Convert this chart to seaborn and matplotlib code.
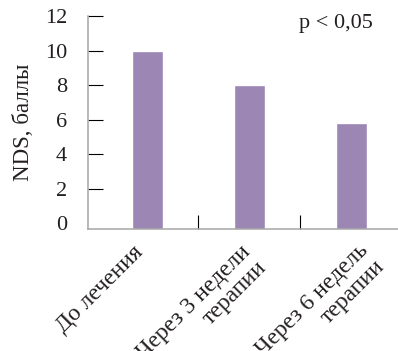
import matplotlib
matplotlib.use("Agg")
import matplotlib.pyplot as plt
import matplotlib.transforms as mtransforms
import seaborn as sns
import pandas as pd

categories = ["До лечения", "Через 3 недели\nтерапии", "Через 6 недель\nтерапии"]
nds_values = [10.0, 8.0, 5.8]
y_ticks = [0, 2, 4, 6, 8, 10, 12]
p_text = "p < 0,05"
y_label = "NDS, баллы"

df = pd.DataFrame({"period": categories, "nds": nds_values})

sns.set_style("white")
plt.rcParams["font.family"] = ["Liberation Serif", "DejaVu Serif"]
txt_color = "#231f20"

fig = plt.figure(figsize=(3.98, 3.51), dpi=100)
ax = fig.add_axes([0.221, 0.3476, 0.779, 0.6068])

sns.barplot(data=df, x="period", y="nds", color="#9b86b4", saturation=1,
            width=0.3, ax=ax)

y_floor = -0.32
ax.set_xlim(-0.583, 2.456)
ax.set_ylim(y_floor, 12)
# in the original the bars run down to the axis line, slightly below zero
for bar in ax.patches:
    h = bar.get_height()
    bar.set_y(y_floor)
    bar.set_height(h - y_floor)

ax.set_yticks(y_ticks)
ax.set_yticklabels([str(t) for t in y_ticks], fontsize=16, color=txt_color)

# category labels drawn as rotated text under each bar
ax.set_xticks([0, 1, 2])
ax.set_xticklabels([])
label_offset_px = [(-15, 13), (-10, 12), (6, 11)]
base = mtransforms.blended_transform_factory(ax.transData, ax.transAxes)
for i, (cat, (dx, dy)) in enumerate(zip(categories, label_offset_px)):
    tr = base + mtransforms.ScaledTranslation(dx / 100, -dy / 100, fig.dpi_scale_trans)
    ax.text(i, 0, cat, transform=tr, fontsize=17, color=txt_color,
            rotation=45, rotation_mode="anchor", ha="right", va="top",
            multialignment="right", linespacing=1.1, clip_on=False)

# separator ticks between categories
ax.set_xticks([0.5, 1.5], minor=True)
ax.tick_params(axis="x", which="major", bottom=False, length=0)
ax.tick_params(axis="x", which="minor", bottom=True, direction="in",
               length=10, width=0.8, color="black")
ax.tick_params(axis="y", left=True, direction="in", length=11, width=0.8,
               color="black", pad=15)
ax.yaxis.get_major_ticks()[0].tick1line.set_visible(False)

for side in ["top", "right"]:
    ax.spines[side].set_visible(False)
for side in ["left", "bottom"]:
    ax.spines[side].set_color("#a6a6a6")
    ax.spines[side].set_linewidth(1.1)

ax.set_xlabel("")
ax.set_ylabel(y_label, fontsize=16.5, color=txt_color, labelpad=8)

ax.text(0.8, 1.01, p_text, transform=ax.transAxes, fontsize=16,
        color=txt_color, ha="center", va="top")

fig.savefig("out.png", dpi=100)
